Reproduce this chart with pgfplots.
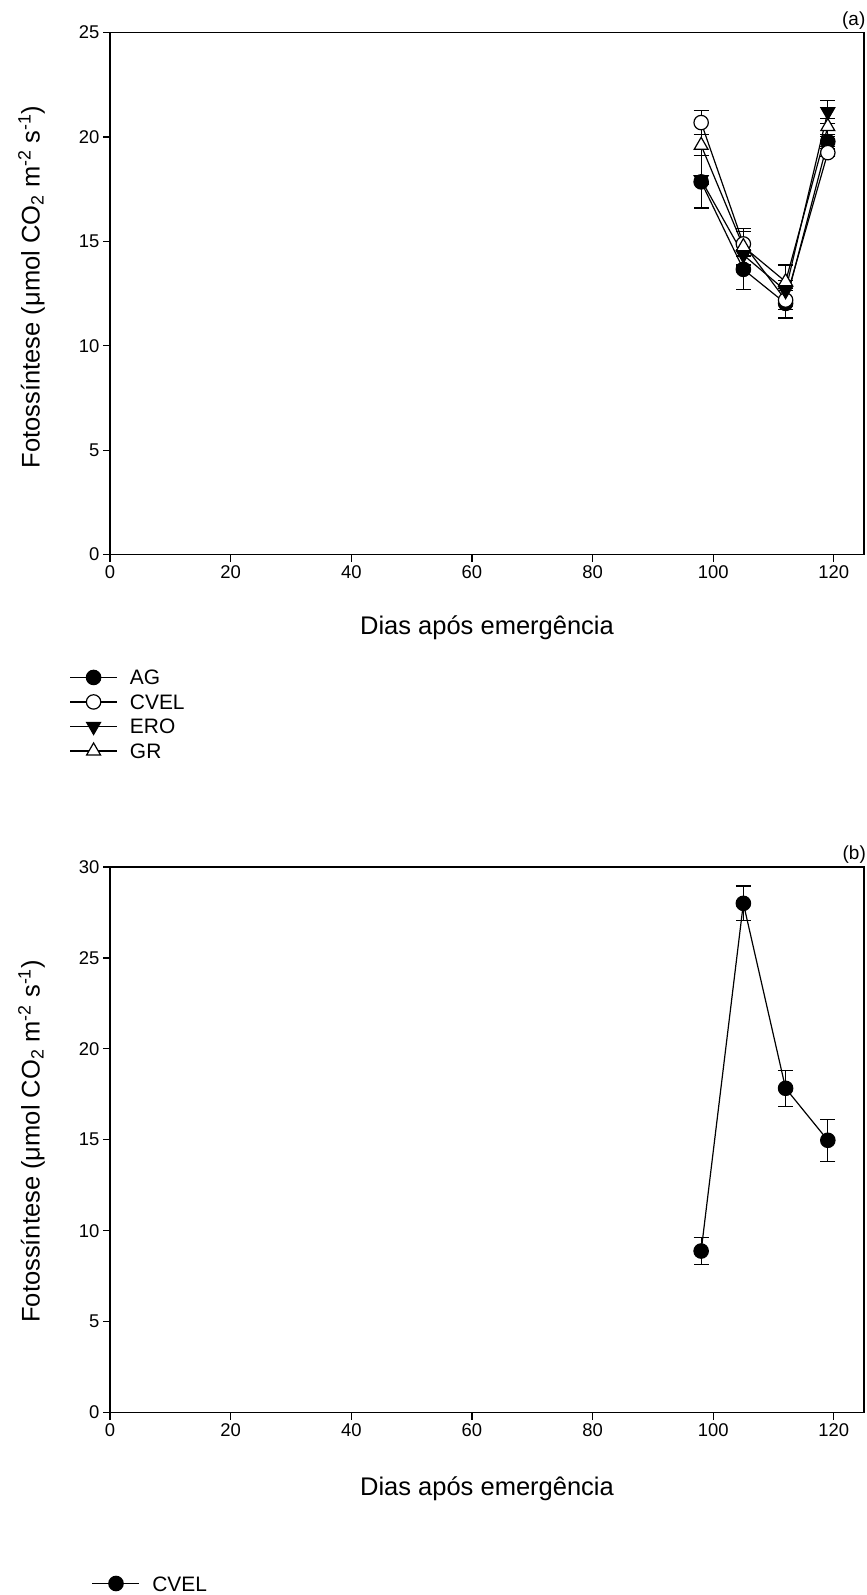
\documentclass[border=0pt]{standalone}
\usepackage{pgfplots}
\pgfplotsset{compat=1.18}
\usepackage{fontspec}
\setmainfont{Liberation Sans}

\pgfplotsset{
  myaxis/.style={
    scale only axis, width=754bp,
    xmin=0, xmax=125, xtick={0,20,...,120},
    clip=false,
    axis line style={line width=1.3bp, black},
    tick style={line width=1.2bp, black},
    major tick length=7bp, tick align=outside,
    xtick pos=lower, ytick pos=lower,
    ticklabel style={font=\fontsize{18.5}{20}\selectfont},
    /pgf/number format/assume math mode=true,
    yticklabel style={xshift=0bp},
    xticklabel style={yshift=-0.5bp},
    label style={font=\fontsize{25.6}{28}\selectfont},
    xlabel={Dias após emergência},
    ylabel={Fotossíntese (μmol CO\textsubscript{2} m\textsuperscript{-2} s\textsuperscript{-1})},
    legend cell align=left,
    legend style={draw=none, fill=none, inner sep=0pt, anchor=north west,
      font=\fontsize{21}{21}\selectfont, column sep=12.3bp, row sep=0pt,
      nodes={inner sep=0pt, text height=19.75bp, text depth=4.75bp}},
    legend image code/.code={\draw[mark repeat=2,mark phase=2,##1] plot coordinates {(0bp,0bp) (23.5bp,0bp) (47bp,0bp)};},
  },
  ser/.style={black, line width=1.2bp, mark options={solid, line width=1.2bp},
    error bars/y dir=both, error bars/y explicit,
    error bars/error bar style={line width=1.2bp, black},
    error bars/error mark options={rotate=90, mark size=7.6bp, line width=1.2bp, black}},
}

\begin{document}
\begin{tikzpicture}
\useasboundingbox (0,0) rectangle (867bp,1595bp);

% ---------- (a) ----------
\begin{axis}[myaxis, at={(110bp,1040.4bp)}, anchor=south west, height=522bp,
  ymin=0, ymax=25, ytick={0,5,...,25},
  xlabel style={at={(axis description cs:0.5,0)}, anchor=base, yshift=-79.7bp},
  ylabel style={at={(axis description cs:-0.0932,0.513)}, anchor=base},
  legend style={at={(axis description cs:-0.054,-0.2115)}},
]
\addplot[ser, mark=*, mark size=7.2bp, mark options={fill=black}] coordinates {
  (98,17.85) +- (0,1.25)
  (105,13.66) +- (0,0.95)
  (112,12.03) +- (0,0.7)
  (119,19.78) +- (0,0.25)
};
\addlegendentry{AG}
\addplot[ser, mark=*, mark size=7.2bp, mark options={fill=white}] coordinates {
  (98,20.69) +- (0,0.58)
  (105,14.88) +- (0,0.58)
  (112,12.19) +- (0,0.45)
  (119,19.25) +- (0,0.2)
};
\addlegendentry{CVEL}
\addplot[ser, mark=triangle*, mark size=8bp, mark options={fill=black, rotate=180}] coordinates {
  (98,17.95) +- (0,0.2)
  (105,14.35) +- (0,0.45)
  (112,12.64) +- (0,0.5)
  (119,21.21) +- (0,0.55)
};
\addlegendentry{ERO}
\addplot[ser, mark=triangle*, mark size=8bp, mark options={fill=white}] coordinates {
  (98,19.6) +- (0,0.5)
  (105,14.75) +- (0,0.88)
  (112,13.07) +- (0,0.8)
  (119,20.5) +- (0,0.4)
};
\addlegendentry{GR}
\node[anchor=base east, inner sep=0pt, font=\fontsize{19}{19}\selectfont, xshift=1.5bp, yshift=6.7bp] at (rel axis cs:1,1) {(a)};
\end{axis}

% ---------- (b) ----------
\begin{axis}[myaxis, at={(110bp,182.5bp)}, anchor=south west, height=545.5bp,
  ymin=0, ymax=30, ytick={0,5,...,30},
  xlabel style={at={(axis description cs:0.5,0)}, anchor=base, yshift=-82.7bp},
  ylabel style={at={(axis description cs:-0.0932,0.497)}, anchor=base},
  legend style={at={(axis description cs:-0.02427,-0.29065)}},
]
\addplot[ser, mark=*, mark size=7.2bp, mark options={fill=black}] coordinates {
  (98,8.88) +- (0,0.74)
  (105,28.0) +- (0,0.95)
  (112,17.83) +- (0,1.0)
  (119,14.97) +- (0,1.15)
};
\addlegendentry{CVEL}
\node[anchor=base east, inner sep=0pt, font=\fontsize{19}{19}\selectfont, xshift=2bp, yshift=7.1bp] at (rel axis cs:1,1) {(b)};
\end{axis}
\end{tikzpicture}
\end{document}
